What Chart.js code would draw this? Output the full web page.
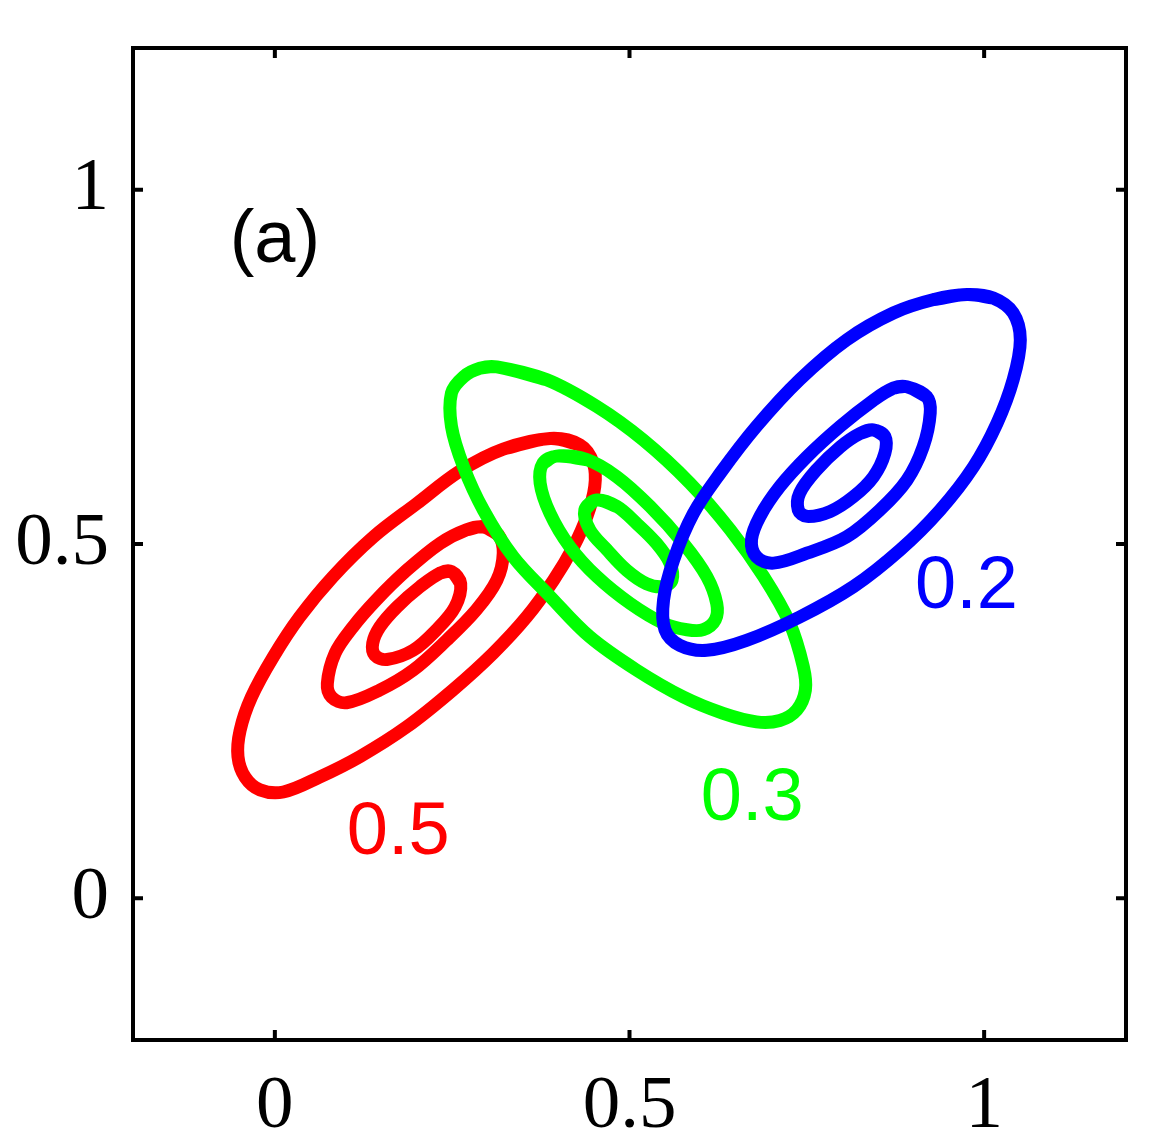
<!DOCTYPE html>
<html>
<head>
<meta charset="utf-8">
<script src="https://cdn.jsdelivr.net/npm/chart.js@4.4.1/dist/chart.umd.min.js"></script>
<style>
html,body{margin:0;padding:0;background:#fff;}
#wrap{width:1158px;height:1142px;position:relative;}
</style>
</head>
<body>
<div id="wrap"><canvas id="c" width="1158" height="1142"></canvas></div>
<script>
// ---- data ----
const xTickVals = [0, 0.5, 1];
const xTickLabels = ['0', '0.5', '1'];
const yTickVals = [0, 0.5, 1];
const yTickLabels = ['0', '0.5', '1'];

const redOuterX = [0.388,0.430,0.449,0.451,0.440,0.421,0.393,0.355,0.308,0.251,0.186,0.120,0.063,0.012,-0.021,-0.042,-0.052,-0.049,-0.033,-0.002,0.035,0.082,0.139,0.200,0.261,0.322];
const redOuterY = [0.649,0.640,0.614,0.581,0.539,0.496,0.449,0.397,0.346,0.294,0.242,0.200,0.171,0.150,0.153,0.171,0.200,0.237,0.284,0.341,0.397,0.454,0.510,0.557,0.603,0.634];
const redMidX = [0.294,0.315,0.322,0.313,0.284,0.242,0.195,0.148,0.101,0.080,0.074,0.085,0.110,0.143,0.186,0.233,0.270];
const redMidY = [0.524,0.513,0.487,0.449,0.407,0.364,0.322,0.294,0.276,0.284,0.303,0.346,0.383,0.421,0.463,0.501,0.520];
const redInX = [0.249,0.262,0.254,0.228,0.195,0.158,0.141,0.138,0.148,0.172,0.205,0.233];
const redInY = [0.461,0.444,0.411,0.379,0.350,0.337,0.343,0.360,0.383,0.411,0.440,0.459];

const greenOutX = [0.313,0.383,0.454,0.519,0.585,0.642,0.689,0.726,0.745,0.748,0.736,0.712,0.679,0.632,0.576,0.510,0.444,0.388,0.336,0.294,0.266,0.249,0.249,0.266,0.289];
const greenOutY = [0.750,0.732,0.694,0.647,0.586,0.520,0.454,0.388,0.327,0.294,0.266,0.251,0.249,0.261,0.284,0.322,0.369,0.426,0.482,0.548,0.609,0.666,0.713,0.736,0.748];
const greenMidX = [0.397,0.440,0.482,0.529,0.576,0.609,0.623,0.621,0.604,0.581,0.548,0.501,0.454,0.416,0.388,0.374,0.378];
const greenMidY = [0.624,0.619,0.595,0.553,0.501,0.454,0.416,0.393,0.379,0.379,0.388,0.416,0.454,0.496,0.543,0.586,0.614];
const greenInX = [0.454,0.482,0.510,0.538,0.557,0.560,0.548,0.524,0.496,0.468,0.444,0.437];
const greenInY = [0.562,0.553,0.529,0.501,0.473,0.449,0.440,0.444,0.463,0.492,0.520,0.548];

const blueOutX = [0.976,1.013,1.041,1.051,1.041,1.018,0.985,0.938,0.882,0.816,0.740,0.665,0.609,0.571,0.550,0.548,0.562,0.590,0.628,0.679,0.740,0.806,0.872,0.929];
const blueOutY = [0.852,0.847,0.826,0.788,0.732,0.670,0.609,0.548,0.492,0.440,0.397,0.364,0.350,0.357,0.379,0.421,0.477,0.543,0.600,0.666,0.732,0.788,0.826,0.845];
const blueMidX = [0.891,0.919,0.924,0.914,0.891,0.853,0.806,0.750,0.703,0.679,0.672,0.684,0.712,0.750,0.797,0.844,0.872];
const blueMidY = [0.722,0.708,0.685,0.637,0.590,0.548,0.510,0.487,0.473,0.482,0.506,0.539,0.581,0.623,0.666,0.703,0.720];
const blueInX = [0.844,0.860,0.860,0.844,0.816,0.783,0.750,0.738,0.740,0.764,0.797,0.825];
const blueInY = [0.661,0.652,0.628,0.595,0.567,0.546,0.539,0.548,0.572,0.605,0.637,0.656];

const labelTexts = ['(a)', '0.5', '0.3', '0.2'];
const labelX = [0.0, 0.174, 0.673, 0.975];
const labelY = [0.898, 0.062, 0.110, 0.410];
const labelColors = ['#000000', '#ff0000', '#00ff00', '#0000ff'];

// ---- build datasets ----
function loop(xs, ys) {
  const pts = xs.map((x, i) => ({x: x, y: ys[i]}));
  const n = pts.length;
  return [pts[n - 1]].concat(pts, [pts[0], pts[1]]);
}
function ds(xs, ys, color, order) {
  return {
    data: loop(xs, ys),
    showLine: true,
    borderColor: color,
    borderWidth: 13,
    borderCapStyle: 'round',
    borderJoinStyle: 'round',
    pointRadius: 0,
    pointHoverRadius: 0,
    fill: false,
    tension: 0.35,
    order: order
  };
}
const datasets = [
  ds(redOuterX, redOuterY, '#ff0000', 2),
  ds(redMidX, redMidY, '#ff0000', 2),
  ds(redInX, redInY, '#ff0000', 2),
  ds(greenOutX, greenOutY, '#00ff00', 1),
  ds(greenMidX, greenMidY, '#00ff00', 1),
  ds(greenInX, greenInY, '#00ff00', 1),
  ds(blueOutX, blueOutY, '#0000ff', 0),
  ds(blueMidX, blueMidY, '#0000ff', 0),
  ds(blueInX, blueInY, '#0000ff', 0)
];

const framePlugin = {
  id: 'frame',
  afterDraw(chart) {
    const ctx = chart.ctx;
    const a = chart.chartArea;
    const xs = chart.scales.x, ys = chart.scales.y;
    ctx.save();
    ctx.strokeStyle = '#000';
    ctx.lineWidth = 4;
    ctx.lineCap = 'butt';
    ctx.strokeRect(a.left, a.top, a.right - a.left, a.bottom - a.top);
    const tl = 10;
    ctx.beginPath();
    xTickVals.forEach(v => {
      const px = xs.getPixelForValue(v);
      ctx.moveTo(px, a.bottom); ctx.lineTo(px, a.bottom - tl);
      ctx.moveTo(px, a.top); ctx.lineTo(px, a.top + tl);
    });
    yTickVals.forEach(v => {
      const py = ys.getPixelForValue(v);
      ctx.moveTo(a.left, py); ctx.lineTo(a.left + tl, py);
      ctx.moveTo(a.right, py); ctx.lineTo(a.right - tl, py);
    });
    ctx.stroke();
    ctx.font = '74px "Liberation Sans", Arial, sans-serif';
    ctx.textAlign = 'center';
    ctx.textBaseline = 'alphabetic';
    labelTexts.forEach((t, i) => {
      ctx.fillStyle = labelColors[i];
      ctx.fillText(t, xs.getPixelForValue(labelX[i]), ys.getPixelForValue(labelY[i]));
    });
    ctx.restore();
  }
};

new Chart(document.getElementById('c'), {
  type: 'scatter',
  data: { datasets: datasets },
  options: {
    responsive: false,
    animation: false,
    devicePixelRatio: 1,
    layout: { padding: { top: 48, right: 32, left: 0, bottom: 0 } },
    plugins: { legend: { display: false }, tooltip: { enabled: false } },
    events: [],
    scales: {
      x: {
        type: 'linear', min: -0.2, max: 1.2,
        afterBuildTicks: s => { s.ticks = xTickVals.map(v => ({value: v})); },
        afterFit: s => { s.height = 102; s.paddingLeft = 0; s.paddingRight = 0; },
        grid: { display: false, drawTicks: false },
        border: { display: false },
        ticks: {
          color: '#000', padding: 22, maxRotation: 0, minRotation: 0, autoSkip: false,
          font: { family: '"Liberation Serif", "Times New Roman", serif', size: 75 },
          callback: (v, i) => xTickLabels[i]
        }
      },
      y: {
        type: 'linear', min: -0.2, max: 1.2,
        afterBuildTicks: s => { s.ticks = yTickVals.map(v => ({value: v})); },
        afterFit: s => { s.width = 133; s.paddingTop = 0; s.paddingBottom = 0; },
        grid: { display: false, drawTicks: false },
        border: { display: false },
        ticks: {
          color: '#000', padding: 24, autoSkip: false,
          font: { family: '"Liberation Serif", "Times New Roman", serif', size: 75 },
          callback: (v, i) => yTickLabels[i]
        }
      }
    }
  },
  plugins: [framePlugin]
});
</script>
</body>
</html>
